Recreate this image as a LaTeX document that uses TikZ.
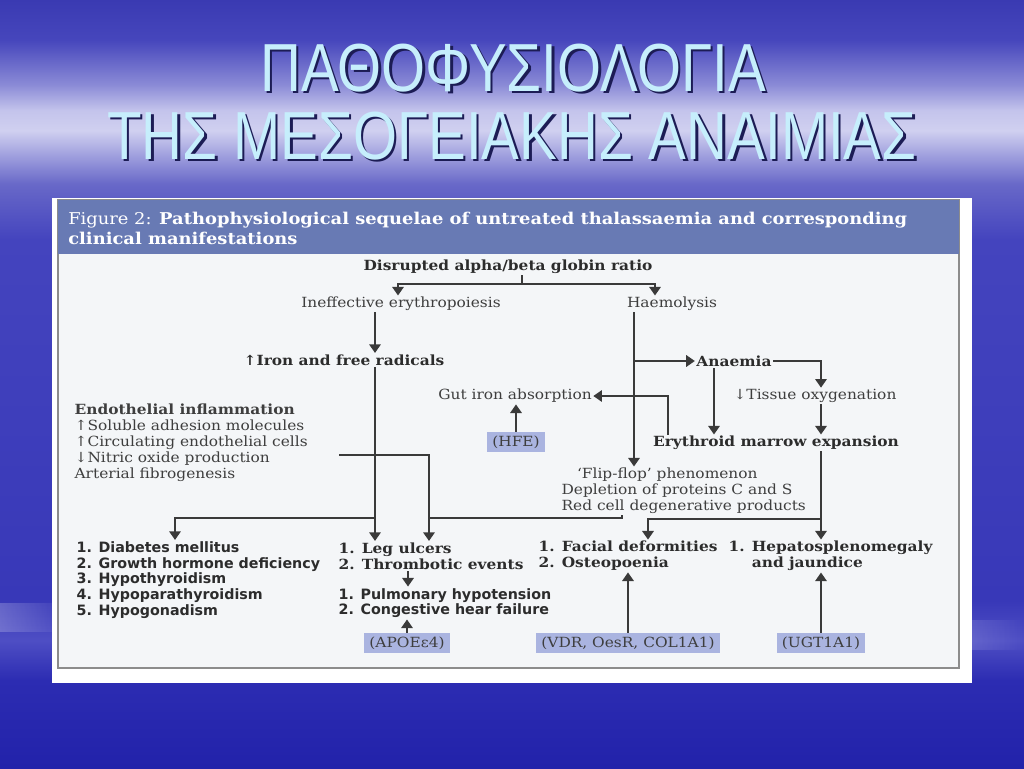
\documentclass[tikz,border=0pt]{standalone}
\usepackage{fontspec}
\setmainfont[FakeStretch=1.1]{DejaVu Serif}
\newfontfamily\titlefont[FakeStretch=0.832]{Liberation Sans}
\newfontfamily\listfont{DejaVu Sans}
\usepackage{tikz}
\usetikzlibrary{arrows.meta,positioning,calc,fadings}
\definecolor{skya}{HTML}{3A3AB2}
\definecolor{skyb}{HTML}{4646BC}
\definecolor{skyc}{HTML}{8A8AD6}
\definecolor{skyd}{HTML}{C4C4EC}
\definecolor{skye}{HTML}{D0D0F0}
\definecolor{skyf}{HTML}{A0A0DE}
\definecolor{skyg}{HTML}{6868C8}
\definecolor{skyh}{HTML}{4444BE}
\definecolor{skyi}{HTML}{3838B8}
\definecolor{skyj}{HTML}{4E4EC4}
\definecolor{skyk}{HTML}{2C2CB2}
\definecolor{skyl}{HTML}{2222AA}
\definecolor{ttlfg}{HTML}{C6EEFC}
\definecolor{ttlsh}{HTML}{1C1C55}
\definecolor{figband}{HTML}{687AB4}
\definecolor{figbody}{HTML}{F4F6F8}
\definecolor{figrule}{HTML}{8C8C8C}
\definecolor{genebox}{HTML}{AAB4E0}
\definecolor{ink}{HTML}{2C2C2C}
\definecolor{inksoft}{HTML}{3E3E3E}
\definecolor{wire}{HTML}{3A3A3A}
\pgfdeclareverticalshading{slidesky}{100bp}{color(0bp)=(skyl); color(25bp)=(skyl);
  color(30.7bp)=(skyk); color(33.3bp)=(skyj); color(35.9bp)=(skyi); color(59.4bp)=(skyh);
  color(63bp)=(skyg); color(64.9bp)=(skyf); color(66.5bp)=(skye); color(67.8bp)=(skyd);
  color(69.5bp)=(skyc); color(72.4bp)=(skyb); color(75bp)=(skya); color(100bp)=(skya)}
\tikzset{
  ttl/.style={font=\titlefont\fontsize{51}{51}\selectfont,inner sep=0pt},
  txt/.style={font=\fontsize{10.5}{12}\selectfont,text=inksoft,inner sep=1pt},
  btxt/.style={font=\fontsize{10.5}{12}\selectfont\bfseries,text=ink,inner sep=1pt},
  ltxt/.style={font=\listfont\fontsize{10.7}{11.8}\selectfont\bfseries,text=ink,
               inner sep=1pt,align=left,anchor=west},
  gene/.style={fill=genebox,font=\fontsize{10.5}{12}\selectfont,text=inksoft,
               minimum height=20*0.75pt,inner xsep=4pt,inner ysep=0pt},
  flow/.style={line width=2pt,draw=wire},
  arr/.style={flow,-{Triangle[width=8.5pt,length=6.5pt]}},
  streak/.style={fill=white,path fading=east},
}

\begin{document}
\begin{tikzpicture}[x=0.75pt,y=-0.75pt]
  \useasboundingbox (0,0) rectangle (1024,768);
  \shade[shading=slidesky] (0,0) rectangle (1024,768);
  \fill[streak,opacity=0.22] (0,603) rectangle (70,632);
  \fill[streak,opacity=0.12] (972,620) rectangle (1024,650);

  % slide title
  \node[ttl,text=ttlsh] at (515.5,70.5) {ΠΑΘΟΦΥΣΙΟΛΟΓΙΑ};
  \node[ttl,text=ttlfg] (ttlone) at (513,68) {ΠΑΘΟΦΥΣΙΟΛΟΓΙΑ};
  \node[ttl,text=ttlsh] at (514.5,138.5) {ΤΗΣ ΜΕΣΟΓΕΙΑΚΗΣ ΑΝΑΙΜΙΑΣ};
  \node[ttl,text=ttlfg] (ttltwo) at (512,136) {ΤΗΣ ΜΕΣΟΓΕΙΑΚΗΣ ΑΝΑΙΜΙΑΣ};

  % figure panel
  \fill[white] (52,198) rectangle (972,683);
  \filldraw[fill=figbody,draw=figrule,line width=0.8pt] (58,200) rectangle (959,668);
  \fill[figband] (58,200) rectangle (959,254);
  \node[font=\fontsize{12.2}{15}\selectfont,text=white,align=left,anchor=west,inner sep=0pt]
    (caption) at (68,228)
    {Figure 2: \textbf{Pathophysiological sequelae of untreated thalassaemia and corresponding}\\
     \textbf{clinical manifestations}};

  \node[btxt] (ratio) at (508,267) {Disrupted alpha/beta globin ratio};
  \node[txt] (ineff) at (401,304) {Ineffective erythropoiesis};
  \node[txt] (haem) at (672,304) {Haemolysis};
  \node[btxt] (iron) at (344,360) {↑Iron and free radicals};
  \node[btxt] (anaem) at (734,361) {Anaemia};
  \node[txt] (gut) at (515,396) {Gut iron absorption};
  \node[txt] (tissue) at (815,396) {↓Tissue oxygenation};
  \node[gene] (hfe) at (516,442) {(HFE)};
  \node[btxt] (eryth) at (776,443) {Erythroid marrow expansion};
  \node[txt,align=left,anchor=west] (endo) at (73,443)
    {\textbf{Endothelial inflammation}\\ ↑Soluble adhesion molecules\\
     ↑Circulating endothelial cells\\ ↓Nitric oxide production\\ Arterial fibrogenesis};
  \node[txt,align=left,anchor=west] (flip) at (560,491)
    {\hspace*{1.1em}‘Flip-flop’ phenomenon\\ Depletion of proteins C and S\\
     Red cell degenerative products};

  \node[ltxt] (diab) at (75,580)
    {1. Diabetes mellitus\\ 2. Growth hormone deficiency\\ 3. Hypothyroidism\\
     4. Hypoparathyroidism\\ 5. Hypogonadism};
  \node[btxt,align=left,anchor=west] (leg) at (337,556) {1. Leg ulcers\\ 2. Thrombotic events};
  \node[ltxt] (pulm) at (337,603) {1. Pulmonary hypotension\\ 2. Congestive hear failure};
  \node[btxt,align=left,anchor=west] (facial) at (537,556) {1. Facial deformities\\ 2. Osteopoenia};
  \node[btxt,align=left,anchor=west] (hepato) at (727,556)
    {1. Hepatosplenomegaly\\ \phantom{1. }and jaundice};
  \node[gene] (apoe) at (407,643) {(APOEε4)};
  \node[gene] (vdr) at (628,643) {(VDR, OesR, COL1A1)};
  \node[gene] (ugt) at (821,643) {(UGT1A1)};

  % trunk columns and bus rows
  \coordinate (split) at (522,284);
  \coordinate (colA) at (375,0);
  \coordinate (colB) at (429,0);
  \coordinate (colC) at (634,0);
  \coordinate (colD) at (714,0);
  \coordinate (colE) at (821,0);
  \coordinate (colF) at (668,0);
  \coordinate (colG) at (648,0);
  \coordinate (colH) at (622,0);
  \coordinate (colI) at (175,0);
  \coordinate (colJ) at (408,0);
  \coordinate (busL) at (0,518);
  \coordinate (busR) at (0,519);
  \coordinate (nox) at ($(endo.east)+(30,12)$);

  \draw[flow] (ratio.south -| split) -- (split);
  \draw[arr] (split) -| ([xshift=-2.25pt]ineff.north);
  \draw[arr] (split) -| (haem.north -| 655,0);
  \draw[arr] (ineff.south -| colA) -- (iron.north -| colA);
  \draw[arr] (iron.south -| colA) -- (leg.north -| colA);
  \draw[arr] (busL -| colA) -| (diab.north -| colI);
  \draw[arr] (nox) -| (leg.north -| colB);
  \draw[flow] (flip.south -| colH) |- (busL -| colB);
  \draw[arr] (haem.south -| colC) -- (flip.north -| colC);
  \draw[arr] (anaem.west -| colC) -- (anaem.west);
  \draw[arr] (anaem.east) -| (tissue.north -| colE);
  \draw[arr] (anaem.south -| colD) -- (eryth.north -| colD);
  \draw[arr] (tissue.south -| colE) -- (eryth.north -| colE);
  \draw[arr] (eryth.north -| colF) |- (gut.east);
  \draw[arr] (hfe.north) -- (gut.south -| hfe.north);
  \draw[arr] (eryth.south -| colE) -- (hepato.north -| colE);
  \draw[arr] (busR -| colE) -| (facial.north -| colG);
  \draw[arr] (leg.south -| colJ) -- (pulm.north -| colJ);
  \draw[arr] (apoe.north) -- (pulm.south -| apoe.north);
  \draw[arr] (vdr.north) -- (facial.south -| vdr.north);
  \draw[arr] (ugt.north) -- (hepato.south -| ugt.north);
\end{tikzpicture}
\end{document}
